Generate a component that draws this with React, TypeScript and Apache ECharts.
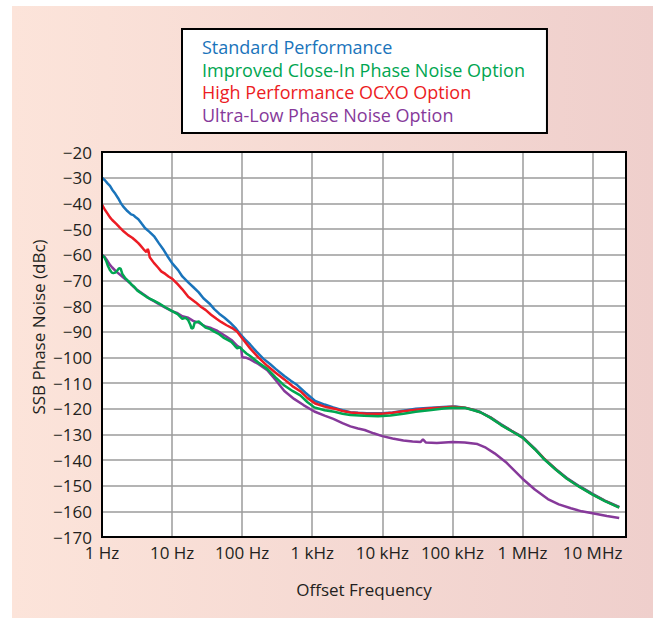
import React, { useEffect, useRef } from "react";
import * as echarts from "echarts";

// ---- data (frequency in Hz, SSB phase noise in dBc) ----
const seriesNames = [
  "Standard Performance",
  "Improved Close-In Phase Noise Option",
  "High Performance OCXO Option",
  "Ultra-Low Phase Noise Option",
];

const standardPerf: [number, number][] = [
  [1, -30], [1.1, -31], [1.2, -32.2], [1.3, -33.2], [1.4, -34.7], [1.55, -36.3], [1.7, -38], [1.85, -39.8],
  [2.0, -41.2], [2.3, -43], [2.6, -44.3], [2.8, -44.6], [3.0, -45.3], [3.3, -46.2], [3.7, -48], [4.1, -49.6],
  [4.8, -51.2], [5.6, -53], [6.5, -55.6], [7.6, -58.2], [8.7, -60.8], [10, -63.3], [12.2, -66], [14, -68.5],
  [17, -70.8], [20, -72.6], [24, -74.7], [28, -77], [34, -79], [40, -81.2], [47, -83], [56, -84.6],
  [67, -86.4], [80, -88.5], [93, -90.8], [110, -93], [130, -95], [160, -97.8], [200, -100.5], [250, -102.6],
  [300, -104.5], [350, -106], [400, -107.3], [500, -109.2], [610, -110.8], [800, -113.8], [1100, -117],
  [1500, -118.4], [2000, -119.5], [2700, -120.6], [3500, -121.4], [4500, -121.6], [6000, -121.8],
  [10000, -121.8], [14000, -121.5], [20000, -120.8], [30000, -120], [50000, -119.6], [85000, -119.3],
  [110000, -119.2], [150000, -119.6], [200000, -120.4], [250000, -121.3], [350000, -123.4], [490000, -126],
  [700000, -128.6], [1000000, -131], [1500000, -135.6], [2000000, -139.3], [3000000, -143.6], [4300000, -147],
  [6500000, -150.2], [10000000, -153.2], [15000000, -155.8], [24000000, -158.3],
];

const improvedCloseIn: [number, number][] = [
  [1, -60.2], [1.08, -61], [1.15, -62.5], [1.22, -64.5], [1.3, -66], [1.38, -67], [1.45, -67.2], [1.55, -67],
  [1.65, -66.2], [1.75, -65.3], [1.85, -65.5], [1.95, -67.5], [2.15, -69.2], [2.4, -70.4], [2.6, -71.5],
  [2.9, -72.6], [3.2, -74], [3.8, -75.4], [4.4, -76.6], [5.4, -77.8], [6.5, -79], [8, -80.5], [10, -82],
  [12, -83.2], [14, -85], [15.5, -84.6], [17, -85.5], [18.2, -87.3], [19, -88.8], [20, -88.5], [21, -86.5],
  [24, -86], [27, -87.3], [30, -88.4], [35, -89], [40, -90], [47, -91], [54, -92.3], [62, -93.2], [70, -94],
  [78, -95.4], [85, -96.5], [92, -96], [100, -97], [115, -98.5], [130, -99.5], [170, -102], [228, -104.5],
  [300, -107.8], [400, -111], [530, -113.2], [676, -114.8], [850, -117.4], [1070, -119.5], [1500, -120.6],
  [2070, -121.2], [2700, -122], [3500, -122.5], [5500, -122.8], [8700, -123], [13000, -122.7], [20000, -122],
  [30000, -121.2], [50000, -120.5], [75000, -119.9], [100000, -119.6], [150000, -119.7], [200000, -120.6],
  [250000, -121.4], [350000, -123.6], [490000, -126.3], [700000, -128.8], [1000000, -131.3], [1500000, -135.8],
  [2000000, -139.5], [3000000, -143.8], [4300000, -147.3], [6500000, -150.5], [10000000, -153.5],
  [15000000, -156], [24000000, -158.6],
];

const highPerfOcxo: [number, number][] = [
  [1, -40.5], [1.1, -42.5], [1.2, -44], [1.3, -45.5], [1.4, -46.5], [1.6, -48], [1.8, -49.5], [2.05, -51],
  [2.36, -52.4], [2.7, -53.4], [3.0, -54.5], [3.3, -55.5], [3.5, -56.3], [3.9, -57.8], [4.3, -59], [4.5, -57.8],
  [4.6, -58.5], [4.8, -61], [5.5, -63.2], [6.3, -65], [7, -66.5], [8, -67.5], [9, -68.6], [10, -69.3],
  [12, -71.5], [14, -73.5], [17, -76.4], [21.8, -78.6], [26, -80.4], [30, -81.5], [36, -83.4], [43, -85],
  [50, -86.2], [60, -87.5], [72, -88.6], [85, -90], [100, -92.6], [130, -96.5], [170, -100], [228, -103.3],
  [300, -106], [400, -108.6], [520, -111.2], [676, -113.2], [850, -115.8], [1100, -118], [1500, -119.2],
  [2070, -120], [2700, -120.9], [3500, -121.5], [6000, -122], [10000, -122], [14000, -121.6], [20000, -121],
  [30000, -120.4], [50000, -119.8], [75000, -119.5], [100000, -119.3], [150000, -119.6], [200000, -120.5],
  [250000, -121.4], [350000, -123.5], [490000, -126.2], [700000, -128.7], [1000000, -131.2], [1500000, -135.7],
  [2000000, -139.3], [3000000, -143.7], [4300000, -147.2], [6500000, -150.4], [10000000, -153.4],
  [15000000, -155.9], [24000000, -158.5],
];

const ultraLowNoise: [number, number][] = [
  [1, -60], [1.1, -61], [1.2, -62.5], [1.3, -64], [1.4, -65], [1.6, -66.6], [1.85, -68], [2.2, -69.8],
  [2.5, -71], [2.8, -72.4], [3.2, -73.8], [4, -75.6], [4.8, -77.2], [5.6, -78.2], [6.5, -79.3], [8, -80.6],
  [10, -82], [12, -82.8], [14, -84], [17, -84.6], [20, -85.8], [24, -86.5], [30, -88], [36, -88.6], [43, -89.5],
  [50, -90.6], [60, -92], [72, -93.5], [85, -95.5], [97, -96.5], [100, -100], [115, -100.2], [130, -100.8],
  [170, -102.6], [228, -105], [300, -108.8], [400, -113.1], [550, -116.2], [750, -118.6], [1070, -121.1],
  [1500, -122.7], [2000, -124], [2700, -125.6], [3500, -126.9], [4500, -127.7], [5600, -128.3], [7500, -129.6],
  [10000, -130.7], [14000, -131.6], [20000, -132.4], [27000, -132.8], [35000, -133], [38000, -132],
  [42000, -133.2], [60000, -133.4], [100000, -133], [150000, -133.2], [228000, -133.8], [300000, -135.2],
  [400000, -137.4], [600000, -141.2], [1000000, -147.3], [1500000, -151.5], [2300000, -155.2],
  [3300000, -157.3], [4900000, -158.8], [7000000, -160], [11400000, -161], [16000000, -161.8],
  [24000000, -162.6],
];

const xTickLabels = ["1 Hz", "10 Hz", "100 Hz", "1 kHz", "10 kHz", "100 kHz", "1 MHz", "10 MHz"];
const yMin = -170;
const yMax = -20;
const yStep = 10;
const xMin = 1;
const xMax = 30000000;

const colors = {
  blue: "#1a74bb",
  green: "#00a651",
  red: "#ec1c24",
  purple: "#86399a",
};

const FONT = "'Open Sans', Lato, sans-serif";

export default function App() {
  const ref = useRef<HTMLDivElement>(null);

  useEffect(() => {
    if (!ref.current) return;
    const chart = echarts.init(ref.current, undefined, { renderer: "svg" });
    const gridLeft = 102;
    const gridTop = 152;
    const gridRight = 30;
    const gridBottom = 83;
    const plotW = 656 - gridLeft - gridRight;
    const plotH = 620 - gridTop - gridBottom;

    const option: any = {
      animation: false,
      textStyle: { fontFamily: FONT },
      graphic: [
        {
          type: "rect",
          z: -10,
          silent: true,
          shape: { x: 12, y: 6, width: 641, height: 612 },
          style: {
            fill: new echarts.graphic.LinearGradient(0, 0, 1, 0, [
              { offset: 0, color: "#fce4da" },
              { offset: 1, color: "#efcfcc" },
            ]),
          },
        },
        {
          type: "rect",
          z: 100,
          silent: true,
          shape: { x: gridLeft, y: gridTop, width: plotW, height: plotH },
          style: { fill: "none", stroke: "#000", lineWidth: 2 },
        },
        {
          type: "text",
          x: 38,
          y: 327,
          rotation: Math.PI / 2,
          silent: true,
          style: {
            text: "SSB Phase Noise (dBc)",
            fill: "#231f20",
            font: `17px ${FONT}`,
            align: "center",
            verticalAlign: "middle",
          },
        },
      ],
      legend: {
        orient: "vertical",
        left: 182,
        top: 29,
        icon: "none",
        itemWidth: 0,
        itemHeight: 10,
        itemGap: 0,
        padding: [7, 22, 7, 15],
        borderColor: "#000",
        borderWidth: 2,
        backgroundColor: "#fff",
        selectedMode: false,
        textStyle: { fontFamily: FONT, fontSize: 18, lineHeight: 22.5 },
        data: [
          { name: seriesNames[0], textStyle: { color: colors.blue } },
          { name: seriesNames[1], textStyle: { color: colors.green } },
          { name: seriesNames[2], textStyle: { color: colors.red } },
          { name: seriesNames[3], textStyle: { color: colors.purple } },
        ],
      },
      grid: {
        left: gridLeft,
        top: gridTop,
        right: gridRight,
        bottom: gridBottom,
        show: true,
        backgroundColor: "#fff",
        borderWidth: 0,
      },
      xAxis: {
        type: "log",
        logBase: 10,
        min: xMin,
        max: xMax,
        name: "Offset Frequency",
        nameLocation: "middle",
        nameGap: 44,
        nameTextStyle: { fontFamily: FONT, fontSize: 17, color: "#231f20" },
        axisLine: { show: false },
        axisTick: { show: false },
        minorTick: { show: false },
        minorSplitLine: { show: false },
        splitLine: { show: true, lineStyle: { color: "#9b9b9b", width: 1.5 } },
        axisLabel: {
          fontFamily: FONT,
          fontSize: 17,
          color: "#231f20",
          margin: 7,
          showMaxLabel: false,
          formatter: (v: number) => {
            const e = Math.log10(v);
            const r = Math.round(e);
            if (Math.abs(e - r) > 1e-6) return "";
            return xTickLabels[r] ?? "";
          },
        },
      },
      yAxis: {
        type: "value",
        min: yMin,
        max: yMax,
        interval: yStep,
        axisLine: { show: false },
        axisTick: { show: false },
        splitLine: { show: true, lineStyle: { color: "#9b9b9b", width: 1.5 } },
        axisLabel: {
          fontFamily: FONT,
          fontSize: 17,
          color: "#231f20",
          margin: 10,
          formatter: (v: number) => (v < 0 ? "\u2212" + Math.abs(v) : String(v)),
        },
      },
      series: [
        { name: seriesNames[0], data: standardPerf, color: colors.blue },
        { name: seriesNames[2], data: highPerfOcxo, color: colors.red },
        { name: seriesNames[3], data: ultraLowNoise, color: colors.purple },
        { name: seriesNames[1], data: improvedCloseIn, color: colors.green },
      ].map((s) => ({
        ...s,
        type: "line",
        showSymbol: false,
        symbol: "none",
        smooth: false,
        lineStyle: { width: 2.5, color: s.color },
        itemStyle: { color: s.color },
      })),
    };
    chart.setOption(option);
    return () => chart.dispose();
  }, []);

  return (
    <div
      ref={ref}
      style={{ position: "absolute", left: 0, top: 0, width: 656, height: 620, background: "#fff" }}
    />
  );
}
